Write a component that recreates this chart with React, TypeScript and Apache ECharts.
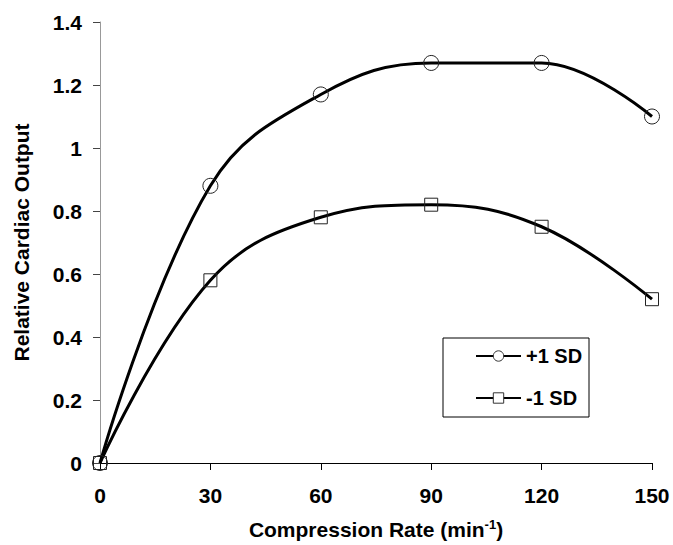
import React, { useEffect, useRef } from "react";
import * as echarts from "echarts";

const rates = [0, 30, 60, 90, 120, 150];
const plusOneSD = [0, 0.88, 1.17, 1.27, 1.27, 1.1];
const minusOneSD = [0, 0.58, 0.78, 0.82, 0.75, 0.52];
const seriesNames = ["+1 SD", "-1 SD"];

const FONT = "Liberation Sans";
const FS = 21;

export default function App() {
  const ref = useRef<HTMLDivElement>(null);
  useEffect(() => {
    const chart = echarts.init(ref.current!, null, { renderer: "svg" });
    const mk = (ys: number[]) => rates.map((x, i) => [x, ys[i]]);
    chart.setOption({
      animation: false,
      backgroundColor: "#ffffff",
      grid: { left: 100, right: 21, top: 22, bottom: 81, containLabel: false },
      xAxis: {
        type: "value",
        min: 0,
        max: 150,
        interval: 30,
        name: "Compression Rate (min{sup|-1})",
        nameLocation: "middle",
        nameGap: 55,
        nameTextStyle: {
          fontFamily: FONT,
          fontWeight: "bold",
          fontSize: FS,
          color: "#000",
          rich: {
            sup: { fontFamily: FONT, fontWeight: "bold", fontSize: 13, color: "#000", padding: [0, 0, 10, 0] },
          },
        },
        axisLine: { show: true, lineStyle: { color: "#000", width: 1 } },
        axisTick: { show: true, length: 7, lineStyle: { color: "#000" } },
        axisLabel: { fontFamily: FONT, fontWeight: "bold", fontSize: FS, color: "#000", margin: 22 },
        splitLine: { show: false },
      },
      yAxis: {
        type: "value",
        min: 0,
        max: 1.4,
        interval: 0.2,
        name: "Relative Cardiac Output",
        nameLocation: "middle",
        nameGap: 68,
        nameTextStyle: { fontFamily: FONT, fontWeight: "bold", fontSize: FS, color: "#000" },
        axisLine: { show: true, lineStyle: { color: "#999", width: 1 } },
        axisTick: { show: true, length: 7, lineStyle: { color: "#444" } },
        axisLabel: {
          fontFamily: FONT,
          fontWeight: "bold",
          fontSize: FS,
          color: "#000",
          margin: 18,
          formatter: (v: number) => String(Math.round(v * 10) / 10),
        },
        splitLine: { show: false },
      },
      legend: {
        orient: "vertical",
        left: 475,
        top: 346,
        padding: 0,
        itemWidth: 45,
        itemHeight: 13,
        itemGap: 22,
        textStyle: { fontFamily: FONT, fontWeight: "bold", fontSize: 20, color: "#000", lineHeight: 20 },
        data: [
          { name: seriesNames[0], itemStyle: { color: "#fff", borderColor: "#333", borderWidth: 1 } },
          { name: seriesNames[1], itemStyle: { color: "#fff", borderColor: "#333", borderWidth: 1 } },
        ],
      },
      graphic: [
        {
          type: "rect",
          shape: { x: 443, y: 338, width: 146, height: 79 },
          style: { fill: "none", stroke: "#000", lineWidth: 1 },
          z: 10,
        },
      ],
      series: [
        {
          name: seriesNames[0],
          type: "line",
          data: mk(plusOneSD),
          smooth: 0.4,
          symbol: "circle",
          symbolSize: 15,
          lineStyle: { color: "#000", width: 3 },
          itemStyle: { color: "transparent", borderColor: "#222", borderWidth: 1 },
          z: 3,
        },
        {
          name: seriesNames[1],
          type: "line",
          data: mk(minusOneSD),
          smooth: 0.4,
          symbol: "rect",
          symbolSize: 13,
          lineStyle: { color: "#000", width: 3 },
          itemStyle: { color: "transparent", borderColor: "#222", borderWidth: 1 },
          z: 2,
        },
      ],
    });
    return () => chart.dispose();
  }, []);
  return <div ref={ref} style={{ width: 673, height: 545, position: "absolute", left: 0, top: 0 }} />;
}
